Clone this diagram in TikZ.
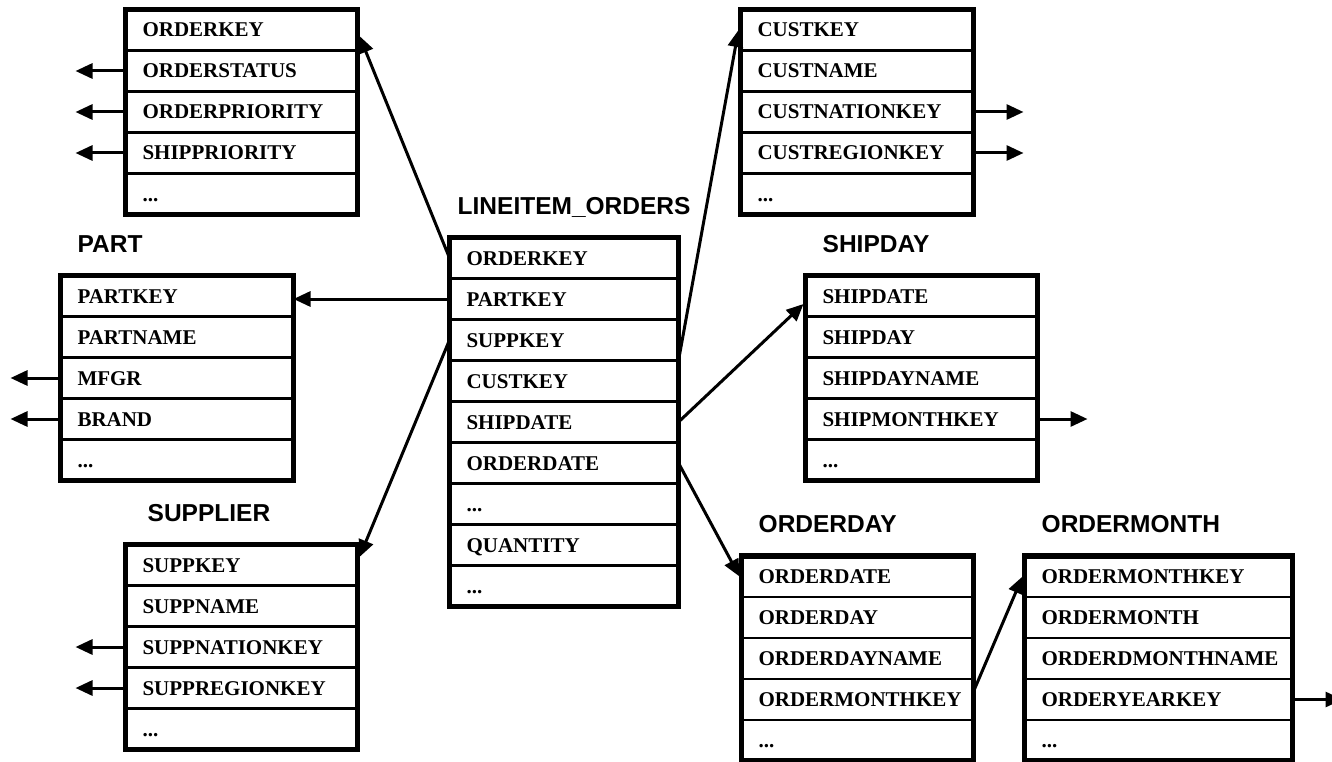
\documentclass[tikz,border=0pt]{standalone}
\usepackage{fontspec}
\setmainfont{Liberation Serif}
\newfontfamily\tblheadfont{Liberation Sans}
\usetikzlibrary{positioning,arrows.meta}
\newcommand{\tblfieldfont}{\fontsize{21}{21}\selectfont\bfseries}

\begin{document}
\begin{tikzpicture}[x=1pt,y=1pt,
        field/.style={draw,line width=2.8pt,outer sep=0pt,inner xsep=17pt,inner ysep=0pt,
            minimum height=41pt,text width=#1,text height=14pt,text depth=0pt,
            align=left,font=\tblfieldfont},
        field/.default=198pt,
        tbl frame/.style={line width=5.5pt},
        tbl title/.style={inner sep=0pt,anchor=base west,
            font=\tblheadfont\fontsize{24.5}{24.5}\selectfont\bfseries},
        fk/.style={line width=3pt,-{Triangle[length=17pt,width=15pt]}}]

        \useasboundingbox (0,0) rectangle (1332,-762);

        % orders
        \node[field,anchor=north west] (o1) at (125.5,-9.5) {ORDERKEY};
        \node[field] (o2) [below=0pt of o1] {ORDERSTATUS};
        \node[field] (o3) [below=0pt of o2] {ORDERPRIORITY};
        \node[field] (o4) [below=0pt of o3] {SHIPPRIORITY};
        \node[field] (o5) [below=0pt of o4] {...};

        % customer
        \node[field=199pt,anchor=north west] (c1) at (740.5,-9.5) {CUSTKEY};
        \node[field=199pt] (c2) [below=0pt of c1] {CUSTNAME};
        \node[field=199pt] (c3) [below=0pt of c2] {CUSTNATIONKEY};
        \node[field=199pt] (c4) [below=0pt of c3] {CUSTREGIONKEY};
        \node[field=199pt] (c5) [below=0pt of c4] {...};

        % lineitem_orders
        \node[field=195pt,anchor=north west] (l1) at (449.5,-237.5) {ORDERKEY};
        \node[field=195pt] (l2) [below=0pt of l1] {PARTKEY};
        \node[field=195pt] (l3) [below=0pt of l2] {SUPPKEY};
        \node[field=195pt] (l4) [below=0pt of l3] {CUSTKEY};
        \node[field=195pt] (l5) [below=0pt of l4] {SHIPDATE};
        \node[field=195pt] (l6) [below=0pt of l5] {ORDERDATE};
        \node[field=195pt] (l7) [below=0pt of l6] {...};
        \node[field=195pt] (l8) [below=0pt of l7] {QUANTITY};
        \node[field=195pt] (l9) [below=0pt of l8] {...};
        \node[tbl title] (tl) at ([xshift=8pt,yshift=23pt]l1.north west) {LINEITEM\_ORDERS};

        % part
        \node[field=199pt,anchor=north west] (p1) at (60.5,-275.5) {PARTKEY};
        \node[field=199pt] (p2) [below=0pt of p1] {PARTNAME};
        \node[field=199pt] (p3) [below=0pt of p2] {MFGR};
        \node[field=199pt] (p4) [below=0pt of p3] {BRAND};
        \node[field=199pt] (p5) [below=0pt of p4] {...};
        \node[tbl title] (tp) at ([xshift=17pt,yshift=23pt]p1.north west) {PART};

        % shipday
        \node[field,anchor=north west] (sd1) at (805.5,-275.5) {SHIPDATE};
        \node[field] (sd2) [below=0pt of sd1] {SHIPDAY};
        \node[field] (sd3) [below=0pt of sd2] {SHIPDAYNAME};
        \node[field] (sd4) [below=0pt of sd3] {SHIPMONTHKEY};
        \node[field] (sd5) [below=0pt of sd4] {...};
        \node[tbl title] (tsd) at ([xshift=17pt,yshift=23pt]sd1.north west) {SHIPDAY};

        % supplier
        \node[field,anchor=north west] (s1) at (125.5,-544.5) {SUPPKEY};
        \node[field] (s2) [below=0pt of s1] {SUPPNAME};
        \node[field] (s3) [below=0pt of s2] {SUPPNATIONKEY};
        \node[field] (s4) [below=0pt of s3] {SUPPREGIONKEY};
        \node[field] (s5) [below=0pt of s4] {...};
        \node[tbl title] (ts) at ([xshift=22pt,yshift=23pt]s1.north west) {SUPPLIER};

        % orderday
        \node[field,anchor=north west] (od1) at (741.5,-556) {ORDERDATE};
        \node[field] (od2) [below=0pt of od1] {ORDERDAY};
        \node[field] (od3) [below=0pt of od2] {ORDERDAYNAME};
        \node[field] (od4) [below=0pt of od3] {ORDERMONTHKEY};
        \node[field] (od5) [below=0pt of od4] {...};
        \node[tbl title] (tod) at ([xshift=17pt,yshift=24pt]od1.north west) {ORDERDAY};

        % ordermonth
        \node[field=234pt,anchor=north west] (om1) at (1024.5,-556) {ORDERMONTHKEY};
        \node[field=234pt] (om2) [below=0pt of om1] {ORDERMONTH};
        \node[field=234pt] (om3) [below=0pt of om2] {ORDERDMONTHNAME};
        \node[field=234pt] (om4) [below=0pt of om3] {ORDERYEARKEY};
        \node[field=234pt] (om5) [below=0pt of om4] {...};
        \node[tbl title] (tom) at ([xshift=17pt,yshift=24pt]om1.north west) {ORDERMONTH};

        % frames
        \draw[tbl frame] (o1.north west) rectangle (o5.south east);
        \draw[tbl frame] (c1.north west) rectangle (c5.south east);
        \draw[tbl frame] (l1.north west) rectangle (l9.south east);
        \draw[tbl frame] (p1.north west) rectangle (p5.south east);
        \draw[tbl frame] (sd1.north west) rectangle (sd5.south east);
        \draw[tbl frame] (s1.north west) rectangle (s5.south east);
        \draw[tbl frame] (od1.north west) rectangle (od5.south east);
        \draw[tbl frame] (om1.north west) rectangle (om5.south east);

        % foreign keys
        \draw[fk] (l1.west) -- ([xshift=2pt,yshift=-6pt]o1.east);
        \draw[fk] (l2.west) -- (l2.west -| p1.east);
        \draw[fk] (l3.west) -- ([xshift=2pt,yshift=8pt]s1.east);
        \draw[fk] (l4.north east) -- ([xshift=-2pt]c1.west);
        \draw[fk] (l5.east) -- ([xshift=-2pt,yshift=-8pt]sd1.west);
        \draw[fk] (l6.east) -- ([xshift=-2pt]od1.west);
        \draw[fk] ([yshift=8pt]od4.east) -- ([xshift=-2pt]om1.west);

        % outgoing keys
        \draw[fk] (o2.west) -- +(-50,0);
        \draw[fk] (o3.west) -- +(-50,0);
        \draw[fk] (o4.west) -- +(-50,0);
        \draw[fk] (c3.east) -- +(50,0);
        \draw[fk] (c4.east) -- +(50,0);
        \draw[fk] (p3.west) -- +(-50,0);
        \draw[fk] (p4.west) -- +(-50,0);
        \draw[fk] (s3.west) -- +(-50,0);
        \draw[fk] (s4.west) -- +(-50,0);
        \draw[fk] (sd4.east) -- +(50,0);
        \draw[fk] (om4.east) -- +(50,0);
    \end{tikzpicture}
\end{document}
